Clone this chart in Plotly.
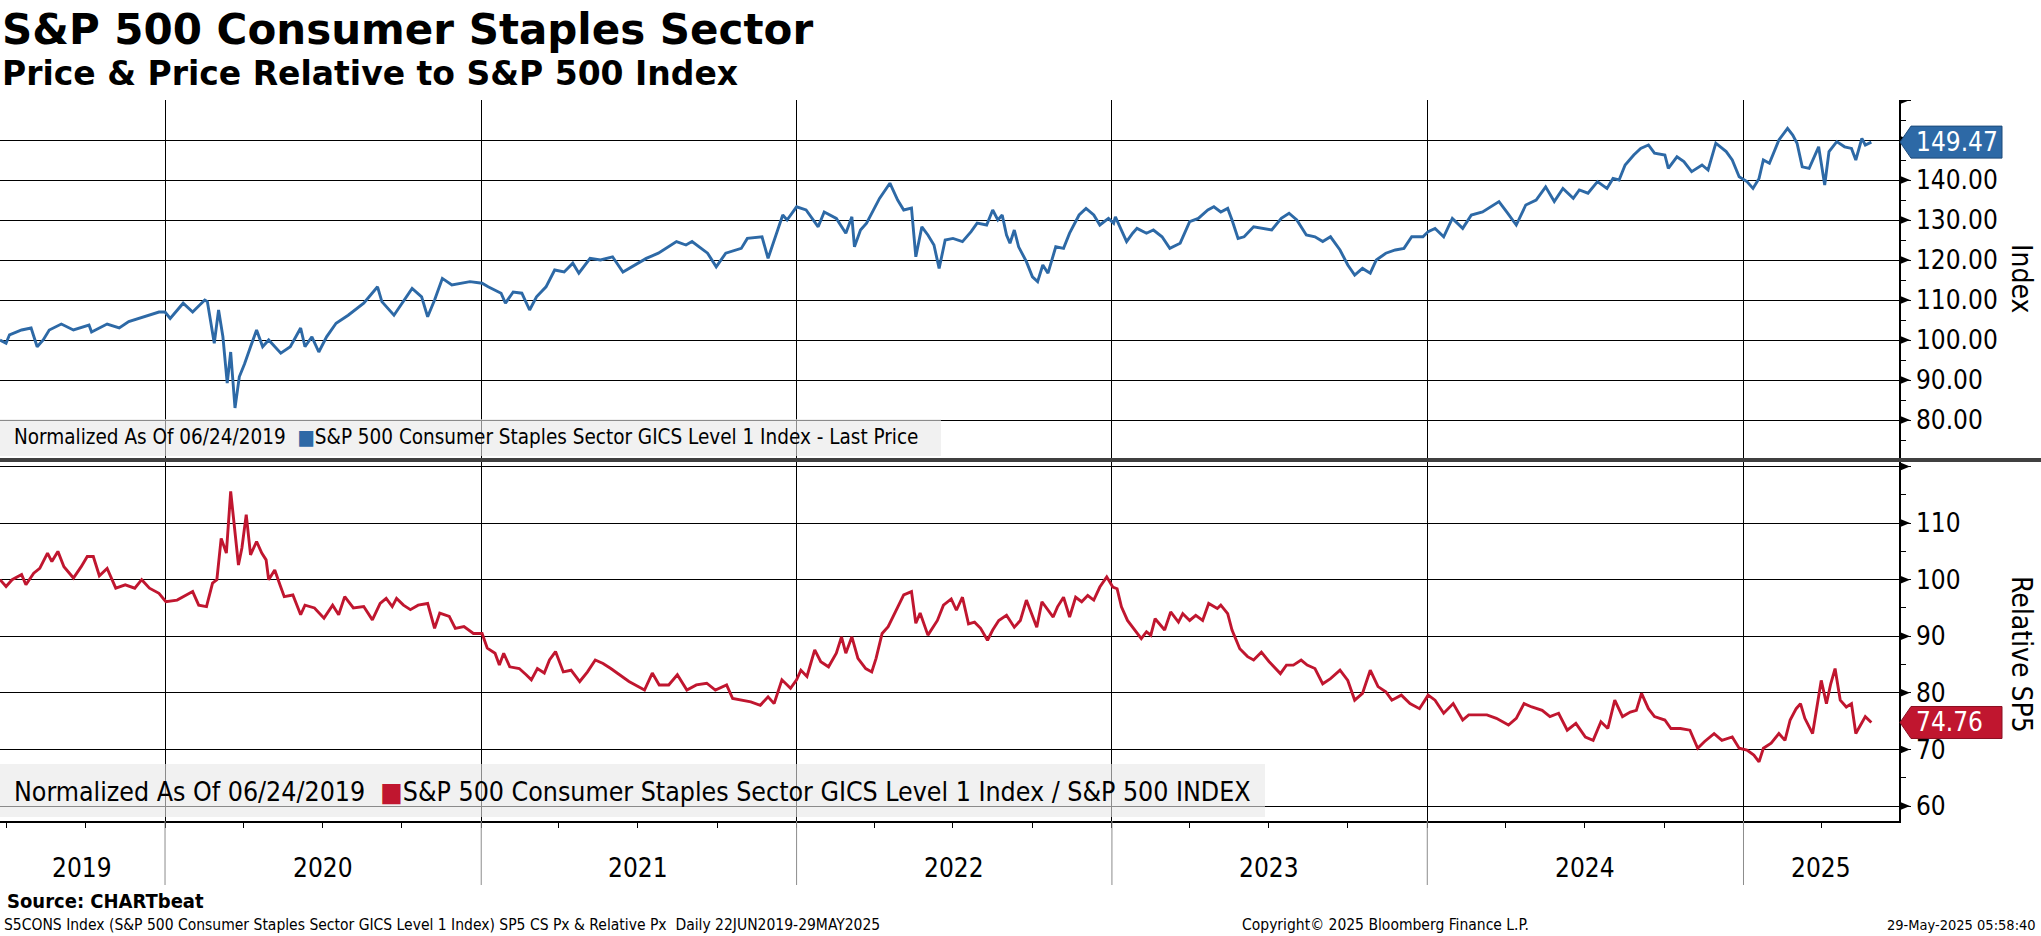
import datetime as dt
import plotly.graph_objects as go

# ---------------- data ----------------
price_dates = [
    "2019-06-24", "2019-07-01", "2019-07-05", "2019-07-19", "2019-07-30", "2019-08-06", "2019-08-13",
    "2019-08-20", "2019-09-03", "2019-09-17", "2019-10-05", "2019-10-08", "2019-10-26", "2019-11-09",
    "2019-11-20", "2019-12-07", "2019-12-25", "2020-01-01", "2020-01-07", "2020-01-22", "2020-02-02",
    "2020-02-16", "2020-02-19", "2020-02-27", "2020-03-03", "2020-03-08", "2020-03-13", "2020-03-17",
    "2020-03-22", "2020-03-27", "2020-04-02", "2020-04-09", "2020-04-16", "2020-04-23", "2020-04-30",
    "2020-05-14", "2020-05-25", "2020-06-06", "2020-06-11", "2020-06-19", "2020-06-27", "2020-07-06",
    "2020-07-17", "2020-07-31", "2020-08-18", "2020-09-03", "2020-09-08", "2020-09-22", "2020-10-03",
    "2020-10-13", "2020-10-24", "2020-10-31", "2020-11-08", "2020-11-17", "2020-11-28", "2020-12-19",
    "2021-01-02", "2021-01-09", "2021-01-24", "2021-01-29", "2021-02-07", "2021-02-17", "2021-02-26",
    "2021-03-06", "2021-03-17", "2021-03-27", "2021-04-07", "2021-04-17", "2021-04-24", "2021-05-07",
    "2021-05-19", "2021-06-02", "2021-06-14", "2021-07-01", "2021-07-11", "2021-07-25", "2021-08-05",
    "2021-08-15", "2021-08-26", "2021-09-02", "2021-09-20", "2021-09-30", "2021-10-11", "2021-10-29",
    "2021-11-05", "2021-11-22", "2021-11-29", "2021-12-06", "2021-12-16", "2021-12-21", "2022-01-01",
    "2022-01-12", "2022-01-26", "2022-02-02", "2022-02-16", "2022-02-27", "2022-03-06", "2022-03-09",
    "2022-03-16", "2022-03-23", "2022-04-07", "2022-04-19", "2022-04-28", "2022-05-05", "2022-05-14",
    "2022-05-19", "2022-05-26", "2022-06-02", "2022-06-09", "2022-06-15", "2022-06-22", "2022-07-01",
    "2022-07-12", "2022-07-22", "2022-07-29", "2022-08-09", "2022-08-16", "2022-08-22", "2022-08-27",
    "2022-09-01", "2022-09-05", "2022-09-10", "2022-09-15", "2022-09-24", "2022-10-01", "2022-10-07",
    "2022-10-13", "2022-10-19", "2022-10-28", "2022-11-06", "2022-11-13", "2022-11-24", "2022-12-02",
    "2022-12-11", "2022-12-18", "2022-12-28", "2023-01-03", "2023-01-05", "2023-01-12", "2023-01-18",
    "2023-01-25", "2023-01-30", "2023-02-10", "2023-02-18", "2023-02-28", "2023-03-09", "2023-03-21",
    "2023-04-01", "2023-04-11", "2023-04-22", "2023-04-29", "2023-05-07", "2023-05-15", "2023-05-20",
    "2023-05-27", "2023-06-03", "2023-06-14", "2023-06-25", "2023-07-05", "2023-07-16", "2023-07-25",
    "2023-08-03", "2023-08-14", "2023-08-24", "2023-09-02", "2023-09-11", "2023-09-22", "2023-10-01",
    "2023-10-09", "2023-10-18", "2023-10-27", "2023-11-03", "2023-11-14", "2023-11-25", "2023-12-05",
    "2023-12-14", "2023-12-27", "2024-01-02", "2024-01-10", "2024-01-20", "2024-01-30", "2024-02-11",
    "2024-02-21", "2024-03-05", "2024-03-14", "2024-03-24", "2024-04-03", "2024-04-13", "2024-04-24",
    "2024-05-06", "2024-05-17", "2024-05-27", "2024-06-06", "2024-06-18", "2024-06-25", "2024-07-05",
    "2024-07-16", "2024-07-27", "2024-08-03", "2024-08-10", "2024-08-17", "2024-08-27", "2024-09-04",
    "2024-09-13", "2024-09-20", "2024-10-02", "2024-10-06", "2024-10-16", "2024-10-24", "2024-11-02",
    "2024-11-14", "2024-11-21", "2024-11-30", "2024-12-12", "2024-12-19", "2024-12-27", "2025-01-05",
    "2025-01-12", "2025-01-19", "2025-01-24", "2025-01-31", "2025-02-11", "2025-02-21", "2025-02-27",
    "2025-03-04", "2025-03-10", "2025-03-18", "2025-03-29", "2025-04-05", "2025-04-10", "2025-04-19",
    "2025-04-28", "2025-05-06", "2025-05-11", "2025-05-18", "2025-05-22", "2025-05-29",
]
price_vals = [
    100.0, 99.2, 101.3, 102.5, 103.0, 98.3, 100.0,
    102.5, 104.0, 102.5, 103.75, 102.0, 104.0, 103.0,
    104.6, 105.8, 107.0, 107.0, 105.4, 109.2, 107.0,
    110.0, 109.6, 99.2, 107.5, 100.8, 89.2, 97.0,
    83.0, 90.8, 94.0, 98.3, 102.5, 98.3, 100.0,
    96.7, 98.3, 103.0, 98.3, 100.8, 97.0, 100.8,
    104.2, 106.2, 109.2, 113.3, 109.6, 106.2, 109.6,
    112.9, 110.8, 105.8, 110.0, 115.4, 113.75, 114.6,
    114.2, 113.3, 111.7, 109.2, 112.0, 111.7, 107.5,
    110.8, 113.3, 117.5, 117.0, 119.2, 116.7, 120.4,
    120.0, 120.8, 117.0, 119.2, 120.4, 121.7, 123.3,
    124.6, 123.75, 124.6, 121.7, 118.3, 121.7, 122.9,
    125.4, 125.8, 120.4, 125.0, 131.25, 130.0, 133.3,
    132.5, 128.3, 132.0, 130.4, 126.7, 130.8, 123.3,
    127.5, 129.2, 135.4, 139.2, 135.0, 132.5, 133.0,
    120.8, 128.3, 126.25, 123.75, 117.9, 125.0, 125.4,
    124.6, 127.1, 129.2, 128.75, 132.5, 130.0, 131.25,
    126.25, 124.2, 127.5, 123.3, 119.6, 115.8, 114.6,
    118.75, 116.7, 123.3, 122.9, 126.7, 131.25, 132.9,
    131.25, 128.75, 130.4, 129.2, 130.8, 127.5, 124.6,
    126.7, 127.9, 126.7, 127.5, 125.8, 122.9, 124.2,
    129.6, 130.4, 132.5, 133.3, 132.0, 132.9, 130.0,
    125.4, 125.8, 128.3, 127.9, 127.5, 130.4, 131.7,
    130.0, 126.25, 125.8, 124.6, 125.8, 122.5, 118.75,
    116.25, 117.9, 116.7, 120.0, 121.7, 122.5, 122.9,
    125.8, 125.8, 127.1, 127.9, 125.8, 130.4, 127.9,
    131.25, 132.0, 133.3, 134.6, 131.7, 128.75, 133.75,
    135.0, 138.3, 134.6, 137.9, 135.4, 137.5, 136.7,
    139.6, 137.9, 140.4, 140.0, 143.75, 146.25, 147.9,
    148.75, 146.7, 146.25, 142.9, 145.8, 144.6, 142.1,
    143.75, 142.5, 149.2, 147.1, 145.0, 140.8, 139.6,
    137.9, 140.4, 145.0, 144.2, 150.0, 152.9, 151.25,
    149.2, 143.3, 142.9, 148.3, 138.75, 147.1, 149.6,
    148.3, 147.9, 145.0, 150.4, 148.75, 149.47,
]

rel_dates = [
    "2019-06-24", "2019-07-01", "2019-07-08", "2019-07-19", "2019-07-24", "2019-08-02", "2019-08-09",
    "2019-08-18", "2019-08-23", "2019-08-30", "2019-09-06", "2019-09-17", "2019-09-26", "2019-10-03",
    "2019-10-10", "2019-10-17", "2019-10-26", "2019-10-31", "2019-11-05", "2019-11-16", "2019-11-27",
    "2019-12-05", "2019-12-14", "2019-12-25", "2020-01-02", "2020-01-15", "2020-01-26", "2020-02-02",
    "2020-02-09", "2020-02-18", "2020-02-25", "2020-03-01", "2020-03-06", "2020-03-12", "2020-03-17",
    "2020-03-22", "2020-03-26", "2020-03-30", "2020-04-04", "2020-04-09", "2020-04-16", "2020-04-22",
    "2020-04-27", "2020-04-30", "2020-05-07", "2020-05-13", "2020-05-18", "2020-05-28", "2020-06-06",
    "2020-06-11", "2020-06-22", "2020-07-03", "2020-07-13", "2020-07-20", "2020-07-27", "2020-08-06",
    "2020-08-18", "2020-08-28", "2020-09-06", "2020-09-13", "2020-09-20", "2020-09-25", "2020-10-03",
    "2020-10-11", "2020-10-20", "2020-10-31", "2020-11-08", "2020-11-14", "2020-11-25", "2020-12-02",
    "2020-12-12", "2020-12-23", "2021-01-02", "2021-01-08", "2021-01-17", "2021-01-22", "2021-01-27",
    "2021-02-03", "2021-02-14", "2021-02-22", "2021-02-28", "2021-03-07", "2021-03-15", "2021-03-21",
    "2021-03-28", "2021-04-06", "2021-04-15", "2021-04-25", "2021-05-04", "2021-05-13", "2021-05-22",
    "2021-05-31", "2021-06-10", "2021-06-21", "2021-07-09", "2021-07-18", "2021-07-26", "2021-08-06",
    "2021-08-16", "2021-08-27", "2021-09-07", "2021-09-19", "2021-09-29", "2021-10-12", "2021-10-19",
    "2021-10-30", "2021-11-09", "2021-11-20", "2021-11-29", "2021-12-06", "2021-12-15", "2021-12-25",
    "2022-01-01", "2022-01-06", "2022-01-13", "2022-01-22", "2022-01-29", "2022-02-07", "2022-02-16",
    "2022-02-22", "2022-02-27", "2022-03-06", "2022-03-13", "2022-03-22", "2022-03-29", "2022-04-03",
    "2022-04-10", "2022-04-17", "2022-04-28", "2022-05-05", "2022-05-14", "2022-05-19", "2022-05-24",
    "2022-06-02", "2022-06-13", "2022-06-20", "2022-06-29", "2022-07-05", "2022-07-12", "2022-07-19",
    "2022-07-26", "2022-08-02", "2022-08-10", "2022-08-16", "2022-08-23", "2022-09-01", "2022-09-10",
    "2022-09-17", "2022-09-24", "2022-10-01", "2022-10-06", "2022-10-12", "2022-10-19", "2022-10-25",
    "2022-10-30", "2022-11-06", "2022-11-13", "2022-11-20", "2022-11-27", "2022-12-04", "2022-12-11",
    "2022-12-18", "2022-12-26", "2023-01-02", "2023-01-07", "2023-01-12", "2023-01-19", "2023-01-28",
    "2023-02-04", "2023-02-10", "2023-02-15", "2023-02-20", "2023-03-03", "2023-03-10", "2023-03-19",
    "2023-03-24", "2023-04-01", "2023-04-08", "2023-04-16", "2023-04-23", "2023-05-03", "2023-05-07",
    "2023-05-15", "2023-05-20", "2023-05-29", "2023-06-07", "2023-06-14", "2023-06-23", "2023-07-02",
    "2023-07-15", "2023-07-22", "2023-07-30", "2023-08-08", "2023-08-15", "2023-08-24", "2023-09-02",
    "2023-09-11", "2023-09-22", "2023-10-01", "2023-10-09", "2023-10-18", "2023-10-27", "2023-11-05",
    "2023-11-14", "2023-11-21", "2023-12-02", "2023-12-12", "2023-12-23", "2024-01-02", "2024-01-10",
    "2024-01-20", "2024-01-31", "2024-02-11", "2024-02-18", "2024-02-29", "2024-03-10", "2024-03-21",
    "2024-04-04", "2024-04-13", "2024-04-22", "2024-05-01", "2024-05-13", "2024-05-22", "2024-06-01",
    "2024-06-11", "2024-06-21", "2024-07-02", "2024-07-11", "2024-07-20", "2024-07-28", "2024-08-05",
    "2024-08-14", "2024-08-23", "2024-08-30", "2024-09-05", "2024-09-13", "2024-09-20", "2024-10-02",
    "2024-10-09", "2024-10-20", "2024-10-31", "2024-11-09", "2024-11-17", "2024-11-28", "2024-12-07",
    "2024-12-19", "2024-12-27", "2025-01-05", "2025-01-13", "2025-01-19", "2025-01-24", "2025-02-02",
    "2025-02-11", "2025-02-18", "2025-02-24", "2025-03-03", "2025-03-08", "2025-03-13", "2025-03-22",
    "2025-03-27", "2025-04-01", "2025-04-07", "2025-04-12", "2025-04-17", "2025-04-23", "2025-04-30",
    "2025-05-06", "2025-05-11", "2025-05-18", "2025-05-22", "2025-05-29",
]
rel_vals = [
    100.0, 98.8, 100.0, 100.9, 99.1, 101.15, 102.0,
    104.7, 103.2, 105.0, 102.3, 100.3, 102.3, 104.1,
    104.1, 100.7, 102.0, 100.3, 98.5, 99.1, 98.5,
    100.0, 98.5, 97.6, 96.1, 96.4, 97.3, 97.9,
    95.5, 95.25, 99.4, 100.0, 107.3, 104.7, 115.6,
    108.8, 102.6, 105.6, 111.5, 104.4, 106.75, 104.7,
    103.5, 100.0, 101.7, 99.1, 97.0, 97.3, 93.8,
    95.5, 95.0, 93.2, 95.5, 93.8, 97.0, 95.0,
    95.25, 92.9, 95.8, 96.7, 95.25, 96.7, 95.5,
    94.7, 95.5, 95.8, 91.4, 94.1, 93.5, 91.4,
    91.7, 90.5, 90.5, 87.9, 87.0, 84.9, 87.0,
    84.6, 84.3, 83.2, 82.3, 84.3, 83.5, 85.8,
    87.3, 83.7, 84.0, 82.0, 83.7, 85.8, 85.2,
    84.3, 83.2, 82.0, 80.5, 83.5, 81.4, 81.4,
    83.2, 80.5, 81.4, 81.7, 80.5, 81.4, 79.0,
    78.7, 78.4, 77.8, 79.3, 78.1, 82.3, 80.8,
    82.3, 84.0, 82.9, 87.6, 85.5, 84.6, 87.0,
    89.9, 87.0, 89.9, 86.1, 84.3, 83.7, 86.1,
    90.5, 91.7, 95.25, 97.3, 97.9, 92.3, 94.1,
    90.2, 92.8, 95.5, 96.6, 94.6, 96.9, 92.2,
    92.5, 91.4, 89.3, 91.1, 92.8, 93.7, 91.6,
    92.8, 96.4, 93.7, 91.6, 96.1, 94.6, 93.4,
    95.2, 96.9, 93.4, 96.9, 96.1, 97.2, 96.4,
    98.7, 100.5, 98.7, 98.4, 95.2, 92.8, 91.1,
    89.6, 90.8, 90.2, 93.1, 91.1, 94.3, 92.5,
    94.0, 92.8, 93.7, 92.8, 95.8, 94.9, 95.5,
    94.0, 91.1, 87.8, 86.4, 85.8, 87.2, 85.5,
    83.4, 84.9, 84.9, 85.8, 84.9, 84.3, 81.6,
    82.5, 84.0, 82.2, 78.7, 79.9, 84.0, 81.1,
    80.2, 78.7, 79.6, 78.1, 77.2, 79.6, 78.7,
    76.4, 78.1, 75.2, 76.1, 76.1, 76.1, 75.5,
    74.3, 75.5, 78.1, 77.5, 76.9, 75.8, 76.4,
    73.4, 74.6, 72.2, 71.6, 74.9, 73.7, 78.7,
    75.8, 76.6, 76.9, 79.9, 77.2, 75.8, 75.2,
    73.7, 73.7, 73.4, 70.2, 71.4, 72.8, 71.6,
    72.2, 70.2, 69.9, 69.0, 67.8, 70.2, 71.1,
    72.8, 71.6, 75.2, 77.2, 78.1, 75.5, 72.8,
    77.2, 82.2, 78.1, 81.6, 84.3, 78.7, 77.5,
    78.1, 72.8, 74.6, 75.8, 74.76,
]

top_ticks = [80, 90, 100, 110, 120, 130, 140, 150, 160]
top_labels = ["80.00", "90.00", "100.00", "110.00", "120.00", "130.00", "140.00", "", ""]
bot_ticks = [60, 70, 80, 90, 100, 110, 120]
bot_labels = ["60", "70", "80", "90", "100", "110", ""]
years = [2019, 2020, 2021, 2022, 2023, 2024, 2025]

title = "S&P 500 Consumer Staples Sector"
subtitle = "Price & Price Relative to S&P 500 Index"
legend_top = "S&P 500 Consumer Staples Sector GICS Level 1 Index - Last Price"
legend_bot = "S&P 500 Consumer Staples Sector GICS Level 1 Index / S&P 500 INDEX"
norm_text = "Normalized As Of 06/24/2019"
source_text = "Source: CHARTbeat"
footer_left = "S5CONS Index (S&P 500 Consumer Staples Sector GICS Level 1 Index) SP5 CS Px & Relative Px  Daily 22JUN2019-29MAY2025"
footer_mid = "Copyright\u00a9 2025 Bloomberg Finance L.P."
footer_right = "29-May-2025 05:58:40"

# ---------------- styling ----------------
W, H = 2041, 936
FONT = "DejaVu Sans Condensed, DejaVu Sans, sans-serif"
FONT_WIDE = "DejaVu Sans, sans-serif"
BLUE = "#2d69a6"
RED = "#c0162f"
X0, X1 = "2019-06-24", "2025-06-30"
XR = 1899 / W


def py(p):
    return 1 - p / H


fig = go.Figure()
fig.add_trace(go.Scatter(x=price_dates, y=price_vals, mode="lines", line=dict(color=BLUE, width=2.9),
                         xaxis="x", yaxis="y", hoverinfo="skip", showlegend=False))
fig.add_trace(go.Scatter(x=rel_dates, y=rel_vals, mode="lines", line=dict(color=RED, width=2.9),
                         xaxis="x2", yaxis="y2", hoverinfo="skip", showlegend=False))

xcommon = dict(type="date", range=[X0, X1], domain=[0, XR], showgrid=True, gridcolor="black", gridwidth=1,
               dtick="M12", tick0="2020-01-01", showticklabels=False, zeroline=False)
ycommon = dict(side="right", showgrid=True, gridcolor="black", gridwidth=1, ticks="outside", ticklen=10,
               tickcolor="black", showline=True, linecolor="black", linewidth=1.5, zeroline=False,
               tickmode="array", tickfont=dict(size=26, family=FONT, color="black"),
               minor=dict(tickmode="linear", tick0=0, dtick=5, ticks="outside", ticklen=5,
                          tickcolor="black", showgrid=False))

fig.update_layout(
    width=W, height=H, margin=dict(l=0, r=0, t=0, b=0),
    paper_bgcolor="white", plot_bgcolor="white",
    font=dict(family=FONT, color="black"),
    xaxis=dict(**xcommon, anchor="y", ticks=""),
    xaxis2=dict(**xcommon, anchor="y2", matches="x", ticks="outside", ticklen=5, tickcolor="black",
                showline=True, linecolor="black", linewidth=1.5,
                minor=dict(dtick="M3", tick0="2019-04-01", ticks="outside", ticklen=5, tickcolor="black",
                           showgrid=False)),
    yaxis=dict(**ycommon, anchor="x", domain=[py(460), py(100)], range=[70, 160],
               tickvals=top_ticks, ticktext=top_labels),
    yaxis2=dict(**ycommon, anchor="x2", domain=[py(821), py(462)], range=[57.35, 120.8],
                tickvals=bot_ticks, ticktext=bot_labels),
)

shapes = []
ann = []

# legend boxes
shapes.append(dict(type="rect", xref="paper", yref="paper", x0=0, x1=941 / W, y0=py(456), y1=py(419),
                   fillcolor="rgba(232,232,232,0.6)", line=dict(width=0), layer="above"))
shapes.append(dict(type="rect", xref="paper", yref="paper", x0=0, x1=1265 / W, y0=py(817), y1=py(764),
                   fillcolor="rgba(232,232,232,0.6)", line=dict(width=0), layer="above"))

# divider between panels
shapes.append(dict(type="line", xref="paper", yref="paper", x0=0, x1=1, y0=py(460), y1=py(460),
                   line=dict(color="#404040", width=4)))

# triangle major tick marks
for ref, ticks in (("y", top_ticks), ("y2", bot_ticks)):
    for v in ticks:
        shapes.append(dict(type="path", xref="paper", yref=ref, xsizemode="pixel", ysizemode="pixel",
                           xanchor=XR, yanchor=v, path="M0,-4.5 L11,0 L0,4.5 Z",
                           fillcolor="black", line=dict(width=0)))

# year separators in the label band
for yr in years[1:]:
    shapes.append(dict(type="line", xref="x2", yref="paper", x0=f"{yr}-01-01", x1=f"{yr}-01-01",
                       y0=py(885), y1=py(821), line=dict(color="#8c8c8c", width=1)))

# last value tags
for ref, vals, col, edge in (("y", price_vals, BLUE, "#1c4a7a"), ("y2", rel_vals, RED, "#8a0f22")):
    last = vals[-1]
    shapes.append(dict(type="path", xref="paper", yref=ref, xsizemode="pixel", ysizemode="pixel",
                       xanchor=XR, yanchor=last, path="M1,0 L12,-16 L103,-16 L103,16 L12,16 Z",
                       fillcolor=col, line=dict(color=edge, width=1)))
    ann.append(dict(x=XR + 15 / W, y=last, xref="paper", yref=ref, xanchor="left", yanchor="middle",
                    text=f"{last:.2f}", showarrow=False, font=dict(size=26, color="white", family=FONT)))

# year labels centred in the visible part of each year
r0 = dt.date.fromisoformat(X0)
r1 = dt.date.fromisoformat(X1)
for yr in years:
    s = max(dt.date(yr, 1, 1), r0)
    e = min(dt.date(yr + 1, 1, 1), r1)
    mid = s + (e - s) / 2
    ann.append(dict(x=mid.isoformat(), y=py(868), xref="x2", yref="paper", text=str(yr), showarrow=False,
                    xanchor="center", yanchor="middle", font=dict(size=26, family=FONT)))

# legend text
ann.append(dict(x=12 / W, y=py(437), xref="paper", yref="paper", xanchor="left", yanchor="middle",
                showarrow=False, font=dict(size=20.5, family=FONT),
                text=f"{norm_text}  <span style='color:{BLUE}'>\u25A0</span>{legend_top}"))
ann.append(dict(x=12 / W, y=py(791), xref="paper", yref="paper", xanchor="left", yanchor="middle",
                showarrow=False, font=dict(size=26.5, family=FONT),
                text=f"{norm_text}  <span style='color:{RED}'>\u25A0</span>{legend_bot}"))

# axis titles
ann.append(dict(x=2022 / W, y=py(278), xref="paper", yref="paper", text="Index", textangle=90,
                xanchor="center", yanchor="middle",
                showarrow=False, font=dict(size=28, family=FONT)))
ann.append(dict(x=2022 / W, y=py(654), xref="paper", yref="paper", text="Relative SP5", textangle=90,
                xanchor="center", yanchor="middle",
                showarrow=False, font=dict(size=28, family=FONT)))

# titles
ann.append(dict(x=0, y=py(29), xref="paper", yref="paper", xanchor="left", yanchor="middle",
                text=f"<b>{title}</b>", showarrow=False, font=dict(size=42, family=FONT_WIDE)))
ann.append(dict(x=0, y=py(74), xref="paper", yref="paper", xanchor="left", yanchor="middle",
                text=f"<b>{subtitle}</b>", showarrow=False, font=dict(size=33, family=FONT_WIDE)))

# footer
ann.append(dict(x=5 / W, y=py(901), xref="paper", yref="paper", xanchor="left", yanchor="middle",
                text=f"<b>{source_text}</b>", showarrow=False, font=dict(size=20, family=FONT)))
ann.append(dict(x=2 / W, y=py(925), xref="paper", yref="paper", xanchor="left", yanchor="middle",
                text=footer_left, showarrow=False, font=dict(size=15.5, family=FONT)))
ann.append(dict(x=1240 / W, y=py(925), xref="paper", yref="paper", xanchor="left", yanchor="middle",
                text=footer_mid, showarrow=False, font=dict(size=15.5, family=FONT)))
ann.append(dict(x=2038 / W, y=py(925), xref="paper", yref="paper", xanchor="right", yanchor="middle",
                text=footer_right, showarrow=False, font=dict(size=14.5, family=FONT)))

fig.update_layout(shapes=shapes, annotations=ann)
fig.write_html("out.html", config={"displayModeBar": False},
               post_script="document.body.style.margin='0';")
